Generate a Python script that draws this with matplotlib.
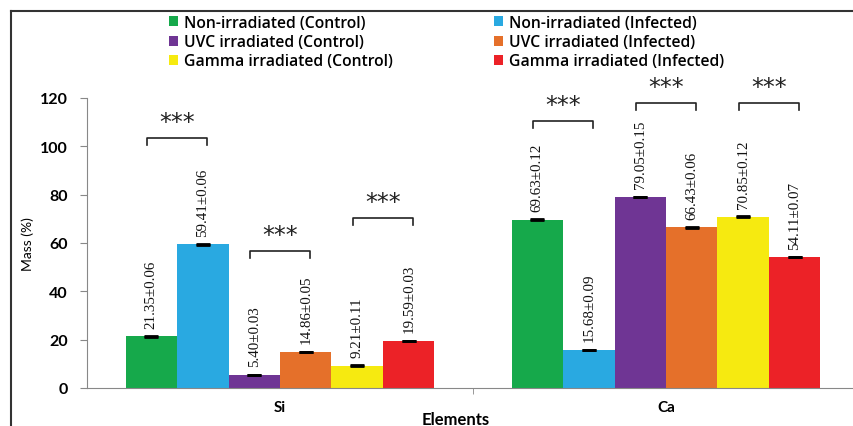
import matplotlib.pyplot as plt
import numpy as np
from matplotlib.lines import Line2D

elements = ["Si", "Ca"]
groups = ["Non-irradiated (Control)", "Non-irradiated (Infected)",
          "UVC irradiated (Control)", "UVC irradiated (Infected)",
          "Gamma irradiated (Control)", "Gamma irradiated (Infected)"]
colors = ["#16a94b", "#29a9e1", "#6f3594", "#e5702a", "#f6ea10", "#ec2227"]

si_mean = [21.35, 59.41, 5.40, 14.86, 9.21, 19.59]
si_err = [0.06, 0.06, 0.03, 0.05, 0.11, 0.03]
ca_mean = [69.63, 15.68, 79.05, 66.43, 70.85, 54.11]
ca_err = [0.12, 0.09, 0.15, 0.06, 0.12, 0.07]

# bracket heights for the *** comparisons (pairs 0-1, 2-3, 4-5)
si_bracket = [103.4, 56.7, 70.3]
ca_bracket = [110.5, 118, 118]

means = np.array([si_mean, ca_mean])
errs = np.array([si_err, ca_err])
brackets = [si_bracket, ca_bracket]

fig = plt.figure(figsize=(8.54, 4.27), dpi=100)
ax = fig.add_axes([87/854, 38/427, 772/854, 290/427])

x = np.arange(len(elements))
w = 0.8 / len(groups)
for i in range(len(groups)):
    pos = x - 0.4 + w * (i + 0.5)
    ax.bar(pos, means[:, i], width=w, color=colors[i], label=groups[i], zorder=2)
    ax.errorbar(pos, means[:, i], yerr=errs[:, i], fmt='none', ecolor='black',
                capsize=5, capthick=2, elinewidth=1, zorder=3)
    for p, m, e in zip(pos, means[:, i], errs[:, i]):
        ax.text(p, m + 3.6, "%.2f±%.2f" % (m, e), rotation=90, ha='center', va='bottom',
                fontsize=10.8, family='Liberation Serif', color='#111111')

for j in range(len(elements)):
    for k in range(3):
        c1 = x[j] - 0.4 + w * (2*k + 0.5)
        c2 = c1 + w
        mid = (c1 + c2) / 2
        hw = 0.585 * w
        yb = brackets[j][k]
        ax.plot([mid - hw, mid - hw, mid + hw, mid + hw], [yb - 3, yb, yb, yb - 3],
                color='#222222', lw=1.2, clip_on=False)
        ax.text(mid, yb + 3.8, "***", ha='center', va='baseline', fontsize=17,
                color='#222222', clip_on=False)

ax.set_xlim(-0.5, 1.5)
ax.set_ylim(0, 120)
ax.set_yticks(range(0, 121, 20))
ax.set_xticks(x)
ax.set_xticklabels(elements, fontweight='bold', fontsize=11, family='Lato')
ax.set_xticks([0.5], minor=True)
ax.tick_params(axis='x', which='major', length=0, pad=9)
ax.tick_params(axis='x', which='minor', length=4, color='#888888')
ax.tick_params(axis='y', length=5, color='#888888', pad=9)
for lab in ax.get_yticklabels():
    lab.set_fontweight('bold')
    lab.set_fontsize(11.5)
    lab.set_family('Lato')
ax.set_ylabel("Mass (%)", fontsize=10, family='Lato', labelpad=4)
for s in ['top', 'right']:
    ax.spines[s].set_visible(False)
for s in ['left', 'bottom']:
    ax.spines[s].set_color('#888888')

fig.text(456/854, 1 - 420/427, "Elements", ha='center', va='center',
         fontweight='bold', fontsize=12, family='Lato')

order = [0, 2, 4, 1, 3, 5]
handles, labels = ax.get_legend_handles_labels()
leg = fig.legend([handles[i] for i in order], [labels[i] for i in order], ncol=2,
                 loc='upper left', bbox_to_anchor=(158/854, 1 - 5/427), frameon=False,
                 handlelength=0.6, handleheight=0.6, handletextpad=0.35,
                 columnspacing=6.45, labelspacing=0.2, borderpad=0.2,
                 prop={'family': 'Open Sans', 'weight': 'semibold', 'size': 11.3})

# frame around the figure (top and left only visible)
fig.add_artist(Line2D([11/854, 853/854], [1 - 12/427, 1 - 12/427], color='#333333', lw=1.5))
fig.add_artist(Line2D([11/854, 11/854], [0, 1 - 12/427], color='#333333', lw=1.5))

fig.savefig("out.png", dpi=100)
